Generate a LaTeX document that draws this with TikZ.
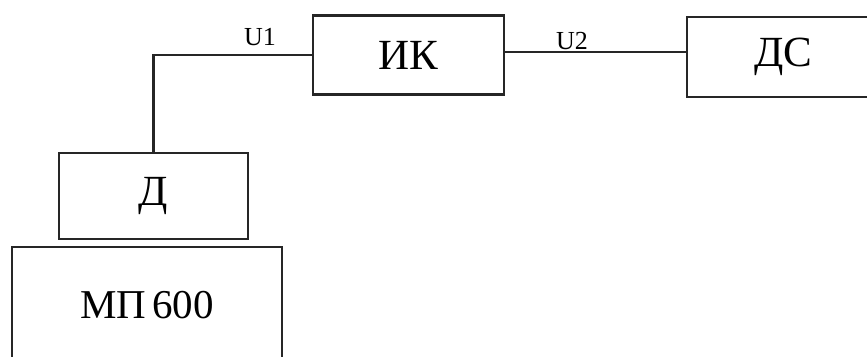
\documentclass[tikz,border=0pt]{standalone}
\usepackage{fontspec}
\setmainfont{Liberation Serif}
\begin{document}
\begin{tikzpicture}[x=1pt,y=-1pt,
  blk/.style={draw=black!85,line width=2.8pt,fill=white,inner sep=0pt,
    font=\fontsize{43}{43}\selectfont},
  wire/.style={draw=black!85,line width=2.8pt},
  sig/.style={inner sep=0pt,font=\fontsize{26}{26}\selectfont}]
\useasboundingbox (0,0) rectangle (867,356);
\clip (0,0) rectangle (867,356);
% blocks
\node[blk,minimum width=191pt,minimum height=79pt] (ik) at (408.5,55) {ИК};
\node[blk,minimum width=192pt,minimum height=80pt] (ds) at (783,57) {ДС};
\node[blk,minimum width=189pt,minimum height=86pt] (d) at (153.5,196) {Д};
\node[blk,minimum width=270pt,minimum height=116pt,
  font=\fontsize{41}{41}\selectfont] (mp) at (147,305) {МП\kern0.15em 600};
% connections
\draw[wire] (d.north) |- (ik.west);
\draw[wire] ([yshift=3pt]ik.east) -- ([yshift=3pt]ik.east -| ds.west);
% signal labels
\node[sig] (u1) at (260,37) {U1};
\node[sig] (u2) at (572,41) {U2};
\end{tikzpicture}
\end{document}
